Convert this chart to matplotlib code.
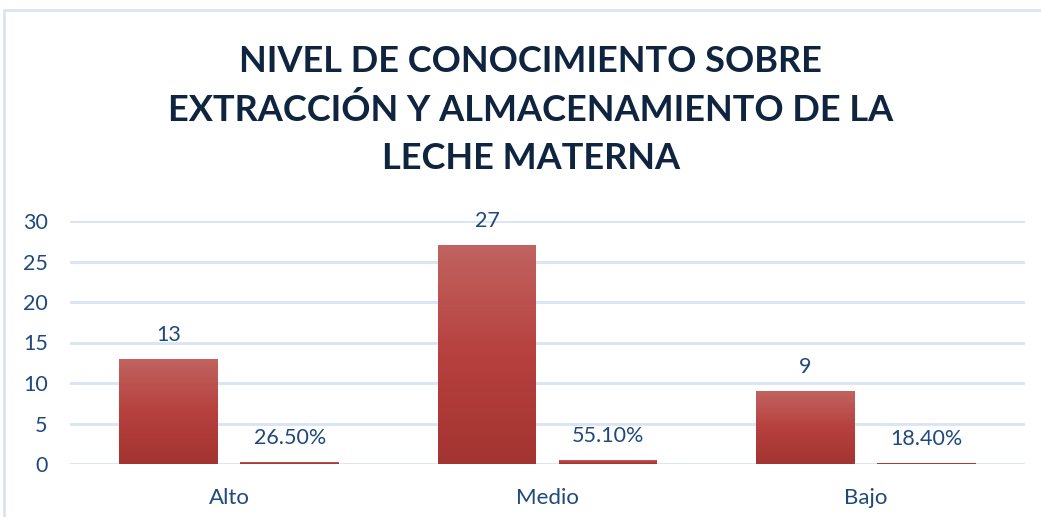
import numpy as np
import matplotlib
matplotlib.use("Agg")
import matplotlib.pyplot as plt
from matplotlib.patches import Rectangle
from matplotlib.colors import LinearSegmentedColormap

# datos
categorias = ["Alto", "Medio", "Bajo"]
cantidad = [13, 27, 9]
porcentaje = [0.265, 0.551, 0.184]
etiq_pct = ["26.50%", "55.10%", "18.40%"]
yticks = [0, 5, 10, 15, 20, 25, 30]

titulo = "NIVEL DE CONOCIMIENTO SOBRE\nEXTRACCIÓN Y ALMACENAMIENTO DE LA\nLECHE MATERNA"

plt.rcParams['font.family'] = ['Lato', 'DejaVu Sans']
azul = '#1F497D'
grid_c = '#D9E4F4'

fig = plt.figure(figsize=(10.41, 5.17), dpi=100)
ax = fig.add_axes([70/1041, 1 - 464/517, 955/1041, 243/517])

# borde del grafico
fig.patches.append(Rectangle((4/1041, -0.2), 1.2, 1.2 - 10/517,
                             transform=fig.transFigure, fill=False,
                             edgecolor=grid_c, linewidth=2))

cmap = LinearSegmentedColormap.from_list('rojo', ['#A33431', '#B6403D', '#C0625F'])

x = np.arange(len(categorias))
w = 0.31
off = 0.19
n = 60  # franjas del degradado

def barras(pos, vals):
    vals = np.asarray(vals, dtype=float)
    for k in range(n):
        ax.bar(pos, vals / n, w, bottom=vals * k / n, color=cmap(k / (n - 1)),
               linewidth=0, antialiased=False, zorder=3)

barras(x - off, cantidad)
barras(x + off, porcentaje)

for xi, v in zip(x - off, cantidad):
    ax.annotate(str(v), (xi, v), xytext=(0, 10), textcoords='offset points',
                ha='center', va='bottom', fontsize=15.5, color=azul)
for xi, v, t in zip(x + off, porcentaje, etiq_pct):
    ax.annotate(t, (xi, v), xytext=(0, 10), textcoords='offset points',
                ha='center', va='bottom', fontsize=15.5, color=azul)

ax.set_xlim(-0.5, 2.5)
ax.set_ylim(0, 30)
ax.set_yticks(yticks)
ax.set_xticks(x)
ax.set_xticklabels(categorias)
ax.tick_params(axis='both', length=0, labelcolor=azul)
ax.tick_params(axis='x', pad=17, labelsize=16)
ax.tick_params(axis='y', pad=16, labelsize=15.5)
ax.grid(axis='y', color=grid_c, linewidth=2, zorder=0)
ax.set_axisbelow(True)
for s in ax.spines.values():
    s.set_visible(False)

fig.text(0.51, 1 - 110/517, titulo, ha='center', va='center', fontsize=26,
         fontweight='bold', color='#0F243E', linespacing=1.56)

fig.savefig('out.png', dpi=100)
